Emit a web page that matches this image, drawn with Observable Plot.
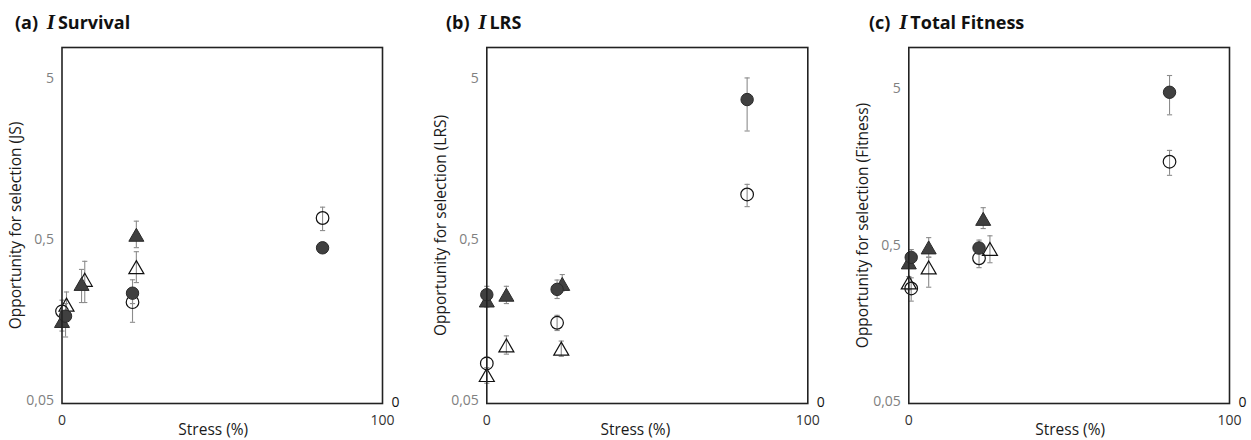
<!DOCTYPE html>
<html><head><meta charset="utf-8">
<script src="https://cdn.jsdelivr.net/npm/d3@7"></script>
<script src="https://cdn.jsdelivr.net/npm/@observablehq/plot@0.6"></script>
<style>
body{margin:0;background:#fff;font-family:"Open Sans",sans-serif;}
#wrap{position:relative;width:1251px;height:440px;overflow:hidden;background:#fff}
.panel{position:absolute;top:0;width:417px;height:440px}
.title{position:absolute;top:10px;font-weight:bold;font-size:18px;line-height:24px;color:#111;white-space:nowrap;font-family:"Open Sans",sans-serif}
.title i{font-family:"Liberation Serif","DejaVu Serif",serif;font-size:21px;font-weight:bold;margin:0 3px 0 4px}
.plotbox{position:absolute;top:35px;left:0}
</style></head>
<body><div id="wrap"></div>
<script>
// ---- text ----
const panelLetters = ["(a)", "(b)", "(c)"];
const panelTitles = ["Survival", "LRS", "Total Fitness"];
const yLabels = ["Opportunity for selection (JS)", "Opportunity for selection (LRS)", "Opportunity for selection (Fitness)"];
const xLabel = "Stress (%)";
const yTicks = [0.05, 0.5, 5];
const xTicks = [0, 100];
const rightTicks = ["0"];

// ---- data: [series, stress %, I, lower, upper] ----
const survivalRows = [
  ["filledCircle", 1.1, 0.167, 0.124, 0.20],
  ["filledCircle", 22.0, 0.232, 0.20, 0.281],
  ["filledCircle", 81.3, 0.444, 0.435, 0.453],
  ["openCircle", 0, 0.179, 0.15, 0.21],
  ["openCircle", 22.0, 0.204, 0.153, 0.25],
  ["openCircle", 81.3, 0.68, 0.568, 0.794],
  ["filledTriangle", 0, 0.156, 0.135, 0.175],
  ["filledTriangle", 6.1, 0.265, 0.203, 0.326],
  ["filledTriangle", 23.2, 0.535, 0.445, 0.65],
  ["openTriangle", 1.4, 0.197, 0.165, 0.236],
  ["openTriangle", 7.1, 0.281, 0.203, 0.366],
  ["openTriangle", 23.2, 0.337, 0.27, 0.42]
];
const lrsRows = [
  ["filledCircle", 0, 0.227, 0.20, 0.256],
  ["filledCircle", 21.9, 0.245, 0.215, 0.28],
  ["filledCircle", 81.1, 3.70, 2.36, 5.04],
  ["openCircle", 0, 0.085, 0.078, 0.093],
  ["openCircle", 21.9, 0.152, 0.136, 0.169],
  ["openCircle", 81.1, 0.952, 0.80, 1.10],
  ["filledTriangle", 0, 0.209, 0.19, 0.23],
  ["filledTriangle", 6.1, 0.227, 0.20, 0.256],
  ["filledTriangle", 23.5, 0.265, 0.24, 0.303],
  ["openTriangle", 0, 0.072, 0.064, 0.08],
  ["openTriangle", 6.1, 0.11, 0.097, 0.126],
  ["openTriangle", 23.2, 0.105, 0.094, 0.117]
];
const fitnessRows = [
  ["filledCircle", 0.75, 0.419, 0.38, 0.47],
  ["filledCircle", 21.9, 0.481, 0.44, 0.54],
  ["filledCircle", 81.3, 4.75, 3.41, 6.08],
  ["openCircle", 0.75, 0.265, 0.22, 0.31],
  ["openCircle", 21.9, 0.413, 0.36, 0.46],
  ["openCircle", 81.3, 1.71, 1.40, 2.02],
  ["filledTriangle", 0, 0.389, 0.36, 0.42],
  ["filledTriangle", 6.2, 0.485, 0.42, 0.56],
  ["filledTriangle", 23.2, 0.738, 0.64, 0.87],
  ["openTriangle", 0, 0.290, 0.26, 0.316],
  ["openTriangle", 6.2, 0.361, 0.27, 0.42],
  ["openTriangle", 25.3, 0.474, 0.387, 0.575]
];
const panelRows = [survivalRows, lrsRows, fitnessRows];

// ---- layout / style (not data) ----
const layout = [
  {left: 0,   titleLeft: 15, ml: 61.5, mr: 35,   yDomain: [0.0479, 7.79], xTitleDx: -9},
  {left: 417, titleLeft: 29, ml: 69.3, mr: 26.7, yDomain: [0.0479, 7.79], xTitleDx: -12},
  {left: 834, titleLeft: 35, ml: 74.3, mr: 22,   yDomain: [0.0488, 9.18], xTitleDx: 1}
];

const triangleSymbol = {draw(ctx) { ctx.moveTo(0, -6.5); ctx.lineTo(7.5, 6.5); ctx.lineTo(-7.5, 6.5); ctx.closePath(); }};
const capSymbol = {draw(ctx) { ctx.moveTo(-2.6, 0); ctx.lineTo(2.6, 0); }};
const fmt = d => String(d).replace(".", ",");

const wrap = document.getElementById("wrap");
layout.forEach((L, i) => {
  const rows = panelRows[i].map(([series, x, y, lo, hi]) => ({series, x, y, lo, hi}));
  const pick = s => rows.filter(r => r.series === s);
  const panel = document.createElement("div");
  panel.className = "panel";
  panel.style.left = L.left + "px";
  const title = document.createElement("div");
  title.className = "title";
  title.style.left = L.titleLeft + "px";
  title.innerHTML = panelLetters[i] + " <i>I</i>" + panelTitles[i];
  panel.appendChild(title);

  const chart = Plot.plot({
    width: 417, height: 405,
    marginLeft: L.ml, marginRight: L.mr, marginTop: 12, marginBottom: 37,
    style: {fontFamily: "'Open Sans', sans-serif", fontSize: "14px", background: "white", overflow: "visible"},
    x: {domain: [0, 100], axis: null},
    y: {type: "log", domain: L.yDomain, axis: null},
    marks: [
      Plot.text(yTicks, {y: d => d, text: fmt, frameAnchor: "left", dx: -8, textAnchor: "end", lineAnchor: "middle", fill: "#808080", fontSize: 14}),
      Plot.text(xTicks, {x: d => d, text: d => String(d), frameAnchor: "bottom", dy: 17, textAnchor: "middle", lineAnchor: "middle", fill: "#333", fontSize: 14}),
      Plot.ruleX(rows, {x: "x", y1: "lo", y2: "hi", stroke: "#8c8c8c", strokeWidth: 1.1}),
      Plot.dot(rows, {x: "x", y: "lo", symbol: capSymbol, stroke: "#8c8c8c", strokeWidth: 1.1}),
      Plot.dot(rows, {x: "x", y: "hi", symbol: capSymbol, stroke: "#8c8c8c", strokeWidth: 1.1}),
      Plot.dot(pick("openCircle"), {x: "x", y: "y", symbol: "circle", r: 6.3, fill: "none", stroke: "#111", strokeWidth: 1.2}),
      Plot.dot(pick("openTriangle"), {x: "x", y: "y", symbol: triangleSymbol, fill: "none", stroke: "#111", strokeWidth: 1.2}),
      Plot.dot(pick("filledTriangle"), {x: "x", y: "y", symbol: triangleSymbol, fill: "#404040", stroke: "#2a2a2a", strokeWidth: 1}),
      Plot.dot(pick("filledCircle"), {x: "x", y: "y", symbol: "circle", r: 6.2, fill: "#404040", stroke: "#2a2a2a", strokeWidth: 1}),
      Plot.frame({stroke: "#222", strokeWidth: 1.6}),
      Plot.text([yLabels[i]], {frameAnchor: "left", dx: -45.5, rotate: -90, textAnchor: "middle", lineAnchor: "middle", fontSize: 15.5, fill: "#1a1a1a"}),
      Plot.text([xLabel], {frameAnchor: "bottom", dx: L.xTitleDx, dy: 27, textAnchor: "middle", lineAnchor: "middle", fontSize: 15.5, fill: "#1a1a1a"}),
      Plot.text(rightTicks, {frameAnchor: "bottom-right", dx: 13, dy: -1, fontSize: 14, fill: "#111", textAnchor: "middle", lineAnchor: "middle"})
    ]
  });
  const box = document.createElement("div");
  box.className = "plotbox";
  box.appendChild(chart);
  panel.appendChild(box);
  wrap.appendChild(panel);
});
</script>
</body></html>
